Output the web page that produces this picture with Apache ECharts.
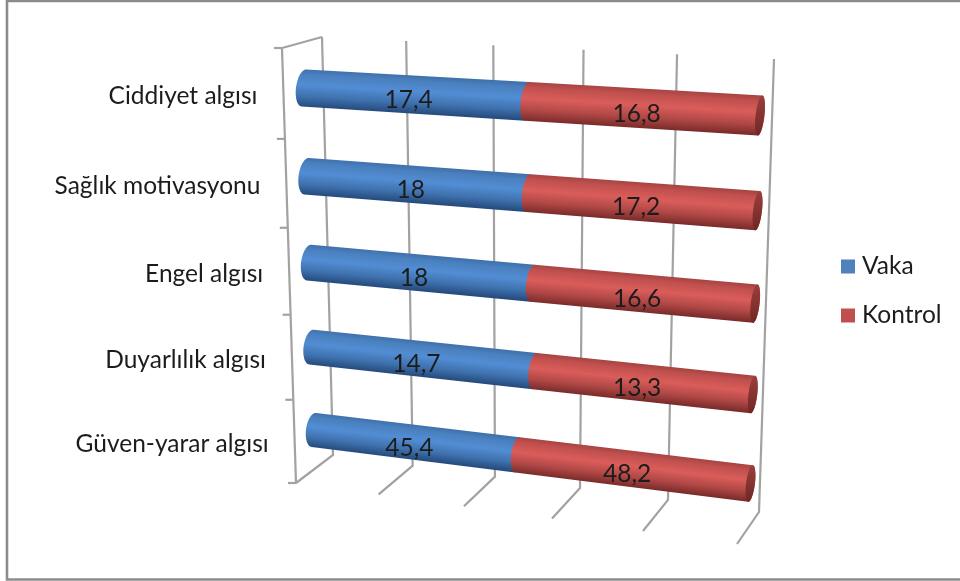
<!DOCTYPE html>
<html>
<head>
<meta charset="utf-8">
<style>
  html, body { margin: 0; padding: 0; background: #ffffff; }
  #chart { width: 960px; height: 581px; }
</style>
<script src="https://cdn.jsdelivr.net/npm/echarts@6/dist/echarts.min.js"></script>
</head>
<body>
<div id="chart"></div>
<script>
// Health-belief scale scores per group, shown as 100% stacked cylinders.
const categories = ['Ciddiyet algısı', 'Sağlık motivasyonu', 'Engel algısı', 'Duyarlılık algısı', 'Güven-yarar algısı'];
const vakaValues = [17.4, 18, 18, 14.7, 45.4];
const kontrolValues = [16.8, 17.2, 16.6, 13.3, 48.2];
const shareTicks = [0, 20, 40, 60, 80, 100];

// Corners [top-left, top-right, bottom-left, bottom-right] of the three receding planes.
const backWall = [[322, 37], [774, 59], [333, 455], [759, 512]];
const frontWall = [[282, 48], [749, 74], [296, 483], [737, 544]];
// The bar plane is anchored on the axes of the first and last cylinders.
const barPlane = [[304, 88], [760, 115.5], [314, 430], [750.5, 483.5]];

const FONT = 'Lato, "Open Sans", sans-serif';
const INK = '#1c1c1c';
const AXIS_LINE = '#a2a2a2';

// Maps the unit square onto a quadrilateral (projective transform).
function squareToQuad(q) {
  const [p0, p1, p3, p2] = q;
  const dx1 = p1[0] - p2[0], dx2 = p3[0] - p2[0], sx = p0[0] - p1[0] + p2[0] - p3[0];
  const dy1 = p1[1] - p2[1], dy2 = p3[1] - p2[1], sy = p0[1] - p1[1] + p2[1] - p3[1];
  const det = dx1 * dy2 - dx2 * dy1;
  const g = (sx * dy2 - dx2 * sy) / det;
  const h = (dx1 * sy - sx * dy1) / det;
  const a = p1[0] - p0[0] + g * p1[0], b = p3[0] - p0[0] + h * p3[0], c = p0[0];
  const d = p1[1] - p0[1] + g * p1[1], e = p3[1] - p0[1] + h * p3[1], f = p0[1];
  return (u, v) => {
    const w = g * u + h * v + 1;
    return [(a * u + b * v + c) / w, (d * u + e * v + f) / w];
  };
}
const toBack = squareToQuad(backWall);
const toFront = squareToQuad(frontWall);
const toBarRaw = squareToQuad(barPlane);
const toBar = (u, v) => toBarRaw(u, (v - 0.1) / 0.8);

// Position inside the flat cartesian grid, as fractions of its rectangle.
function unit(api, params, x, cat) {
  const p = api.coord([x, cat]);
  const r = params.coordSys;
  return [(p[0] - r.x) / r.width, (p[1] - r.y) / r.height];
}

const RADIUS_V = 0.0417;   // cylinder radius as a share of the plot height
const TILT = 2.3;          // silhouette lean of the end circles, px

// Describes the visible end circle of a cylinder at a given plot position.
function endCircle(u, v) {
  const c = toBar(u, v);
  const top = toBar(u, v - RADIUS_V), bottom = toBar(u, v + RADIUS_V);
  const r = Math.abs(bottom[1] - top[1]) / 2;
  const next = toBar(Math.min(u + 0.01, 1), v), prev = toBar(Math.max(u - 0.01, 0), v);
  const len = Math.hypot(next[0] - prev[0], next[1] - prev[1]);
  const dir = [(next[0] - prev[0]) / len, (next[1] - prev[1]) / len];
  return { c, r, dir, bulge: 8 - 3.6 * u };
}
function ellipsePoint(e, t) {
  return [
    e.c[0] + TILT * Math.cos(t) + e.dir[0] * e.bulge * Math.sin(t),
    e.c[1] - e.r * Math.cos(t) + e.dir[1] * e.bulge * Math.sin(t)
  ];
}
function arc(e, from, to, steps) {
  const pts = [];
  for (let i = 0; i <= steps; i++) {
    pts.push(ellipsePoint(e, from + (to - from) * i / steps));
  }
  return pts;
}

function cylinderShade(e0, e1, stops) {
  const m = [(e0.c[0] + e1.c[0]) / 2, (e0.c[1] + e1.c[1]) / 2];
  const r = (e0.r + e1.r) / 2;
  const n = [-e0.dir[1], e0.dir[0]];
  return new echarts.graphic.LinearGradient(
    m[0] - n[0] * r, m[1] - n[1] * r, m[0] + n[0] * r, m[1] + n[1] * r,
    stops, true
  );
}

const blueStops = [
  { offset: 0, color: '#3f71aa' }, { offset: 0.14, color: '#4a80bf' },
  { offset: 0.42, color: '#528dd4' }, { offset: 0.72, color: '#3f72ae' },
  { offset: 1, color: '#254a7c' }
];
const redStops = [
  { offset: 0, color: '#a64442' }, { offset: 0.14, color: '#c0504e' },
  { offset: 0.42, color: '#da5d5a' }, { offset: 0.72, color: '#b04846' },
  { offset: 1, color: '#792b2a' }
];

// Draws one stacked segment; only the outer end of the stack shows its cap.
function segmentRenderer(stops, withCap) {
  return function (params, api) {
    const cat = api.value(0), start = api.value(1), end = api.value(2), raw = api.value(3);
    const a = unit(api, params, start, cat), b = unit(api, params, end, cat);
    const e0 = endCircle(a[0], a[1]), e1 = endCircle(b[0], b[1]);
    const outline = arc(e0, Math.PI, 2 * Math.PI, 24).concat(
      withCap ? arc(e1, 0, Math.PI, 24) : [ellipsePoint(e1, 0), ellipsePoint(e1, Math.PI)]
    );
    const children = [{
      type: 'polygon', shape: { points: outline },
      style: { fill: cylinderShade(e0, e1, stops) }
    }];
    if (withCap) {
      children.push({
        type: 'polygon',
        shape: { points: arc(e1, 0, 2 * Math.PI, 40) },
        style: { fill: new echarts.graphic.LinearGradient(0, 0, 0, 1, [
          { offset: 0, color: '#9a3f3d' }, { offset: 1, color: '#702725' }
        ]) }
      });
    }
    const mid = toBar((a[0] + b[0]) / 2, a[1]);
    children.push({
      type: 'text', z2: 10,
      style: {
        x: mid[0] - 4.5, y: mid[1] + 5.5,
        text: String(raw).replace('.', ','),
        fill: INK, font: '24.5px ' + FONT, align: 'center', verticalAlign: 'middle'
      }
    });
    return { type: 'group', children };
  };
}

// Cumulative shares of the two groups within every category.
const vakaRows = categories.map((_, i) => {
  const total = vakaValues[i] + kontrolValues[i];
  return [i, 0, vakaValues[i] / total * 100, vakaValues[i]];
});
const kontrolRows = categories.map((_, i) => {
  const total = vakaValues[i] + kontrolValues[i];
  return [i, vakaValues[i] / total * 100, 100, kontrolValues[i]];
});

function wallLine(points) {
  return {
    type: 'polyline', shape: { points },
    style: { stroke: AXIS_LINE, lineWidth: 2.2, fill: null }
  };
}

// Share gridlines: up the back wall, then forward along the floor.
function renderGridline(params, api) {
  const u = unit(api, params, api.value(0), 0)[0];
  return wallLine([toBack(u, 0), toBack(u, 1), toFront(u, 1)]);
}

// Category axis at the front of the left wall, with its tick marks and the top edge.
function renderCategoryAxis(params, api) {
  const cat = api.value(0);
  const y = unit(api, params, 0, cat)[1];
  const axisPos = toFront(0, y);
  const children = [{
    type: 'text',
    style: {
      x: axisPos[0] - 26, y: axisPos[1] + 2.5,
      text: categories[cat], fill: INK, font: '24.5px ' + FONT,
      align: 'right', verticalAlign: 'middle'
    }
  }];
  const tickV = cat / categories.length;
  const t = toFront(0, tickV);
  children.push(wallLine([[t[0] - 8, t[1]], t]));
  if (cat === 0) {
    const bottom = toFront(0, 1);
    children.push(wallLine([toBack(0, 0), t, toFront(0, 1)]));
    children.push(wallLine([[bottom[0] - 8, bottom[1]], bottom]));
  }
  return { type: 'group', children };
}

const chart = echarts.init(document.getElementById('chart'), null, { renderer: 'canvas' });
chart.setOption({
  animation: false,
  backgroundColor: '#ffffff',
  textStyle: { fontFamily: FONT },
  grid: { left: 100, right: 100, top: 100, bottom: 100, show: false },
  xAxis: { type: 'value', min: 0, max: 100, interval: 20, show: false },
  yAxis: { type: 'category', data: categories, inverse: true, show: false },
  legend: {
    orient: 'vertical', left: 841, top: 254, padding: 0,
    data: ['Vaka', 'Kontrol'], icon: 'rect',
    itemWidth: 14, itemHeight: 14, itemGap: 24,
    textStyle: { fontSize: 24.5, color: INK, fontFamily: FONT, padding: [0, 0, 0, 2] }
  },
  graphic: [{
    type: 'rect', silent: true, z: -1,
    shape: { x: 7, y: 1, width: 958, height: 578.5 },
    style: { fill: '#ffffff', stroke: '#8c8c8c', lineWidth: 2.6 }
  }],
  series: [
    { type: 'custom', name: 'grid', silent: true, z: 1, renderItem: renderGridline,
      data: shareTicks.map(t => [t]), encode: { x: 0 }, clip: false },
    { type: 'custom', name: 'axis', silent: true, z: 1, renderItem: renderCategoryAxis,
      data: categories.map((_, i) => [i]), encode: { y: 0 }, clip: false },
    { type: 'custom', name: 'Vaka', z: 2, renderItem: segmentRenderer(blueStops, false),
      itemStyle: { color: '#4f81bd' }, data: vakaRows, encode: { y: 0, x: [1, 2] }, clip: false },
    { type: 'custom', name: 'Kontrol', z: 3, renderItem: segmentRenderer(redStops, true),
      itemStyle: { color: '#c0504d' }, data: kontrolRows, encode: { y: 0, x: [1, 2] }, clip: false }
  ]
});
</script>
</body>
</html>
